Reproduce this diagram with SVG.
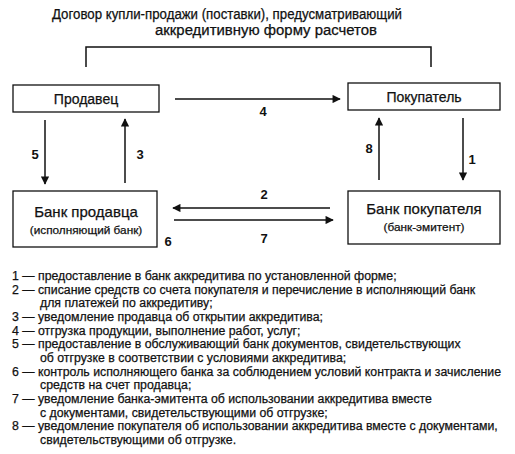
<svg xmlns="http://www.w3.org/2000/svg" width="515" height="454" viewBox="0 0 515 454">
<style>
text{font-family:"Liberation Sans",Arial,sans-serif;fill:#111;stroke:#111;stroke-width:0.25}
.t{font-size:14px;text-anchor:middle}
.n{font-size:14px;text-anchor:middle}
.b{font-size:15px;text-anchor:middle}
.s{font-size:11.8px;text-anchor:middle}
.lab{font-size:13px;text-anchor:middle;font-weight:bold;stroke:none}
.lg{font-size:12.3px}
.box{fill:#fff;stroke:#111;stroke-width:1.3}
.ln{stroke:#111;stroke-width:1.5;fill:none}
</style>
<defs>
<marker id="ah" viewBox="0 0 10 10" refX="9" refY="5" markerWidth="6" markerHeight="5.5" orient="auto" markerUnits="strokeWidth">
<path d="M0,0 L10,5 L0,10 z" fill="#111"/>
</marker>
</defs>
<g id="title">
<text class="t" x="227" y="19" textLength="350" lengthAdjust="spacingAndGlyphs">Договор купли-продажи (поставки), предусматривающий</text>
<text class="t" x="266" y="35" textLength="222" lengthAdjust="spacingAndGlyphs">аккредитивную форму расчетов</text>
</g>
<g id="connectors">
<path class="ln" d="M86,67 V47 H431 V67"/>
<line class="ln" x1="175" y1="99" x2="340" y2="99" marker-end="url(#ah)"/>
<line class="ln" x1="45" y1="120" x2="45" y2="184" marker-end="url(#ah)"/>
<line class="ln" x1="125" y1="183" x2="125" y2="119" marker-end="url(#ah)"/>
<line class="ln" x1="379" y1="180" x2="379" y2="118" marker-end="url(#ah)"/>
<line class="ln" x1="463" y1="118" x2="463" y2="180" marker-end="url(#ah)"/>
<line class="ln" x1="330" y1="208" x2="173" y2="208" marker-end="url(#ah)"/>
<line class="ln" x1="174" y1="220" x2="333" y2="220" marker-end="url(#ah)"/>
<text class="lab" x="263" y="116">4</text>
<text class="lab" x="35" y="159">5</text>
<text class="lab" x="140" y="159">3</text>
<text class="lab" x="369" y="153">8</text>
<text class="lab" x="472" y="164">1</text>
<text class="lab" x="264" y="199">2</text>
<text class="lab" x="264" y="243">7</text>
<text class="lab" x="168" y="246">6</text>
</g>
<g id="seller">
<rect class="box" x="13" y="85" width="146" height="27"/>
<text class="n" x="86" y="104">Продавец</text>
</g>
<g id="buyer">
<rect class="box" x="348" y="83" width="152" height="27"/>
<text class="n" x="424" y="102">Покупатель</text>
</g>
<g id="seller-bank">
<rect class="box" x="13" y="191" width="144" height="56"/>
<text class="b" x="86" y="217">Банк продавца</text>
<text class="s" x="86" y="234">(исполняющий банк)</text>
</g>
<g id="buyer-bank">
<rect class="box" x="348" y="191" width="152" height="53"/>
<text class="b" x="424" y="214">Банк покупателя</text>
<text class="s" x="424" y="231">(банк-эмитент)</text>
</g>
<g id="legend">
<text class="lg" x="12" y="280">1 — предоставление в банк аккредитива по установленной форме;</text>
<text class="lg" x="12" y="294">2 — списание средств со счета покупателя и перечисление в исполняющий банк</text>
<text class="lg" x="40" y="307">для платежей по аккредитиву;</text>
<text class="lg" x="12" y="321">3 — уведомление продавца об открытии аккредитива;</text>
<text class="lg" x="12" y="335">4 — отгрузка продукции, выполнение работ, услуг;</text>
<text class="lg" x="12" y="348">5 — предоставление в обслуживающий банк документов, свидетельствующих</text>
<text class="lg" x="40" y="362">об отгрузке в соответствии с условиями аккредитива;</text>
<text class="lg" x="12" y="376">6 — контроль исполняющего банка за соблюдением условий контракта и зачисление</text>
<text class="lg" x="40" y="389">средств на счет продавца;</text>
<text class="lg" x="12" y="403">7 — уведомление банка-эмитента об использовании аккредитива вместе</text>
<text class="lg" x="40" y="417">с документами, свидетельствующими об отгрузке;</text>
<text class="lg" x="12" y="430">8 — уведомление покупателя об использовании аккредитива вместе с документами,</text>
<text class="lg" x="40" y="444">свидетельствующими об отгрузке.</text>
</g>
</svg>
